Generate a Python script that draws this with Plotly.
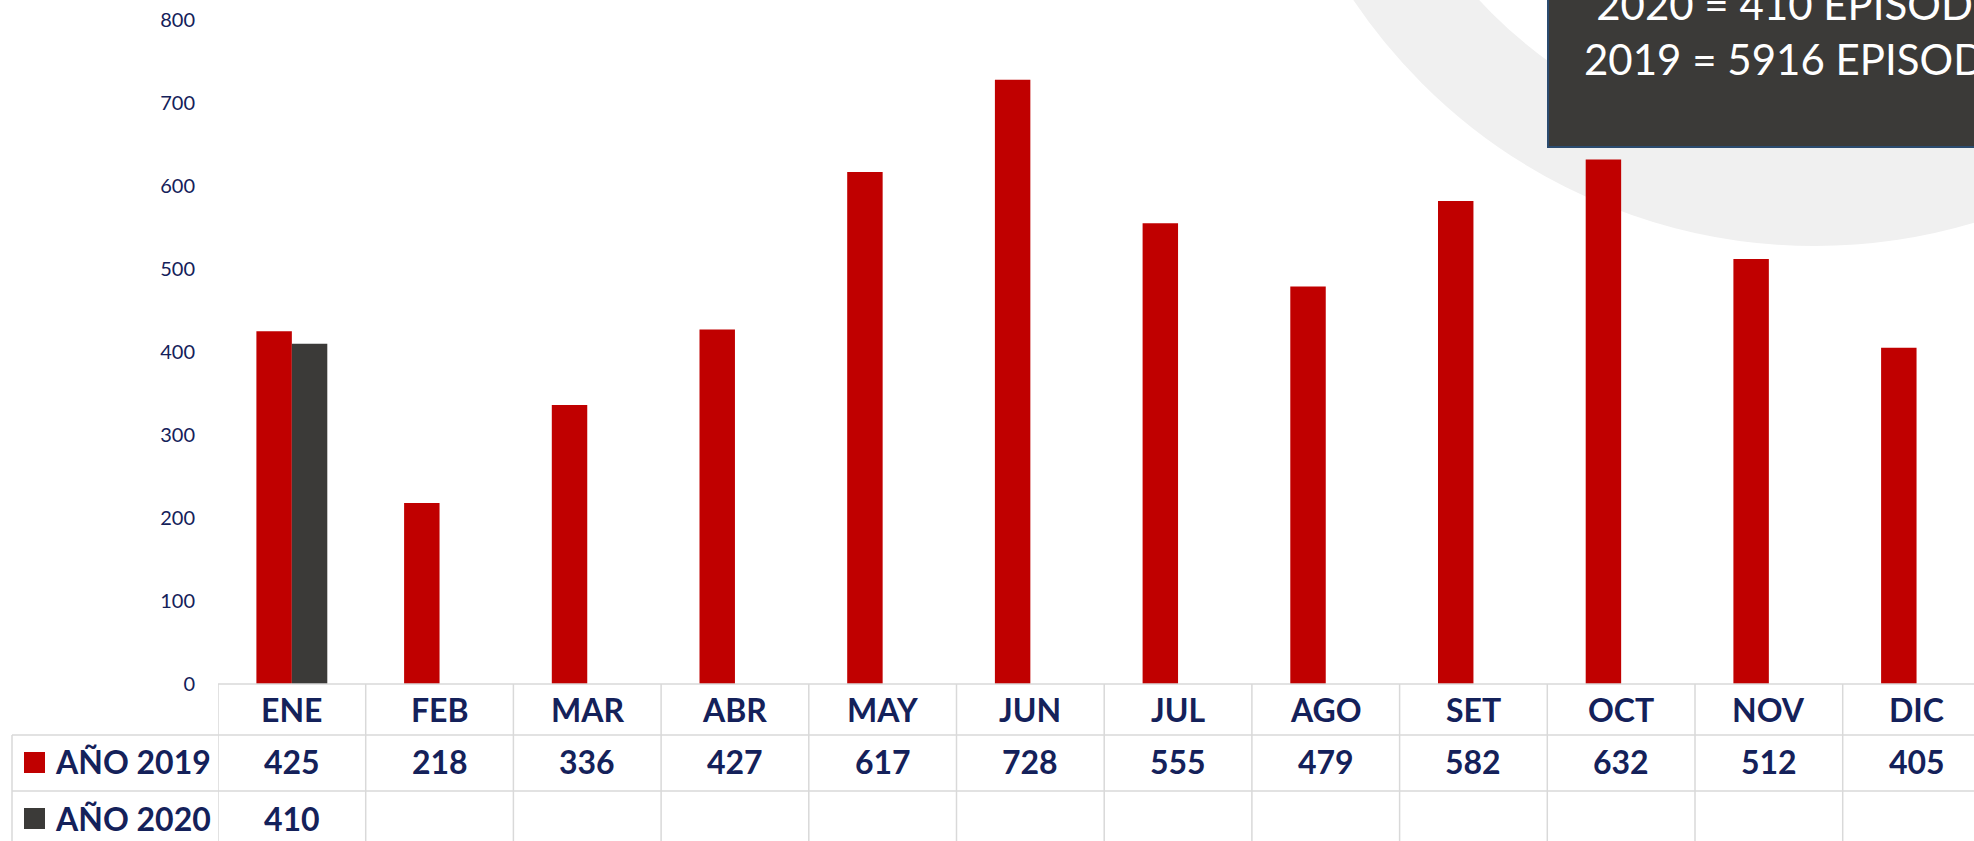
import plotly.graph_objects as go

# ---------------- data ----------------
months = ["ENE", "FEB", "MAR", "ABR", "MAY", "JUN", "JUL", "AGO", "SET", "OCT", "NOV", "DIC"]
values_2019 = [425, 218, 336, 427, 617, 728, 555, 479, 582, 632, 512, 405]
values_2020 = [410, None, None, None, None, None, None, None, None, None, None, None]
series_names = ["AÑO 2019", "AÑO 2020"]
y_ticks = [0, 100, 200, 300, 400, 500, 600, 700, 800]
box_lines = ["2020 = 410 EPISODIOS", "2019 = 5916 EPISODIOS"]

# ---------------- style ----------------
W, H = 1974, 841
L, R, T, B = 218, 0, 20, 157
PW, PH = W - L - R, H - T - B
RED = "#C00000"
DARK = "#3B3A38"
NAVY = "#14215A"
GRID = "#D9D9D9"
FONT = "Lato"

def px_x(px):
    return (px - L) / PW

def px_y(py):
    return (H - B - py) / PH

cat_w = 147.7
x_max = -0.5 + PW / cat_w

fig = go.Figure()
fig.add_trace(go.Bar(x=list(range(len(months))), y=values_2019, name=series_names[0],
                     marker=dict(color=RED, line=dict(width=0))))
fig.add_trace(go.Bar(x=list(range(len(months))), y=values_2020, name=series_names[1],
                     marker=dict(color=DARK, line=dict(width=0))))

shapes = []
# background ring
cx, cy, rmid, ring_w = 1815, -310, 506.5, 99
shapes.append(dict(type="circle", xref="paper", yref="paper", layer="below",
                   x0=px_x(cx - rmid), x1=px_x(cx + rmid), y0=px_y(cy + rmid), y1=px_y(cy - rmid),
                   line=dict(color="#F0F0F0", width=ring_w), fillcolor="rgba(0,0,0,0)"))
# dark box
shapes.append(dict(type="rect", xref="paper", yref="paper", layer="below",
                   x0=px_x(1548), x1=px_x(2100), y0=px_y(147), y1=px_y(-20),
                   line=dict(color="#2B4B6F", width=2), fillcolor=DARK))

# table lines
row1_top, row2_top, row3_top, tbl_bot = 684, 735, 791, 860
shapes.append(dict(type="line", xref="paper", yref="paper", x0=0, x1=1, y0=px_y(row1_top), y1=px_y(row1_top),
                   line=dict(color=GRID, width=1.5)))
for yy in (row2_top, row3_top):
    shapes.append(dict(type="line", xref="paper", yref="paper", x0=px_x(12), x1=1, y0=px_y(yy), y1=px_y(yy),
                       line=dict(color=GRID, width=1.5)))
shapes.append(dict(type="line", xref="paper", yref="paper", x0=px_x(12), x1=px_x(12),
                   y0=px_y(row2_top), y1=px_y(tbl_bot), line=dict(color=GRID, width=1.5)))
for i in range(len(months) + 1):
    shapes.append(dict(type="line", xref="x", yref="paper", x0=i - 0.5, x1=i - 0.5,
                       y0=px_y(row1_top), y1=px_y(tbl_bot), line=dict(color=GRID, width=1.5)))
# legend keys
for k, (col, yy) in enumerate([(RED, 752), (DARK, 808)]):
    shapes.append(dict(type="rect", xref="paper", yref="paper", x0=px_x(24), x1=px_x(45),
                       y0=px_y(yy + 21), y1=px_y(yy), line=dict(width=0), fillcolor=col))

annotations = []
tfont = dict(family=FONT, size=32, color=NAVY, weight="bold")
for i, m in enumerate(months):
    annotations.append(dict(x=i, y=px_y(709), xref="x", yref="paper", text="<b>%s</b>" % m,
                            showarrow=False, font=tfont, xanchor="center", yanchor="middle"))
for vals, yy in ((values_2019, 762), (values_2020, 818)):
    for i, v in enumerate(vals):
        if v is None:
            continue
        annotations.append(dict(x=i, y=px_y(yy), xref="x", yref="paper", text="<b>%d</b>" % v,
                                showarrow=False, font=tfont, xanchor="center", yanchor="middle"))
for name, yy in zip(series_names, (762, 818)):
    annotations.append(dict(x=px_x(53), y=px_y(yy), xref="paper", yref="paper", text="<b>%s</b>" % name,
                            showarrow=False, font=tfont, xanchor="left", yanchor="middle"))
annotations.append(dict(x=px_x(1582), y=px_y(86), xref="paper", yref="paper",
                        text="<br>".join(box_lines), showarrow=False, align="center",
                        font=dict(family=FONT, size=42, color="white"),
                        xanchor="left", yanchor="bottom"))

fig.update_layout(
    width=W, height=H, margin=dict(l=L, r=R, t=T, b=B, pad=0),
    paper_bgcolor="white", plot_bgcolor="rgba(0,0,0,0)",
    barmode="group", bargap=0.52, bargroupgap=0,
    showlegend=False,
    shapes=shapes, annotations=annotations,
    xaxis=dict(range=[-0.5, x_max], showticklabels=False, showgrid=False, zeroline=False,
               showline=False, ticks="", fixedrange=True),
    yaxis=dict(range=[0, 800], tickvals=y_ticks, showgrid=False, zeroline=False, showline=False,
               ticks="", ticklabelstandoff=22,
               tickfont=dict(family=FONT, size=20, color=NAVY)),
    font=dict(family=FONT),
)

fig.write_html("out.html", config={"displayModeBar": False},
               post_script="document.body.style.margin='0';")
